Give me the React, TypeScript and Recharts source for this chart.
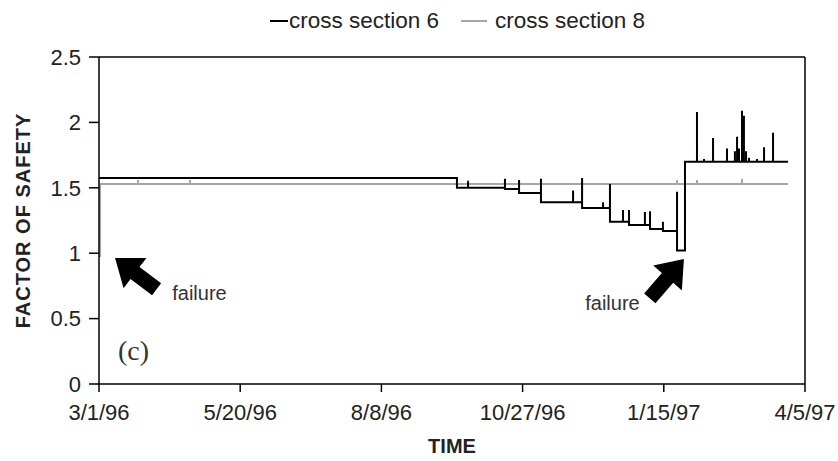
import React from 'react';
import { LineChart, Line, XAxis, YAxis, ReferenceLine, ReferenceDot } from 'recharts';

// x = days since 3/1/96
const xTicks = [0, 80, 160, 240, 320, 400];
const xTickLabels = ['3/1/96', '5/20/96', '8/8/96', '10/27/96', '1/15/97', '4/5/97'];
const yTicks = [0, 0.5, 1, 1.5, 2, 2.5];

const cs6Days = [
  0, 202.8, 202.8, 209.1, 209.1, 209.1, 230, 230, 230, 238, 238, 238,
  250.4, 250.4, 250.4, 268.6, 268.6, 268.6, 273.7, 273.7, 273.7, 285.6, 285.6, 285.6,
  289.5, 289.5, 289.5, 296.9, 296.9, 296.9, 300.3, 300.3, 300.3, 309.3, 309.3, 309.3,
  312.2, 312.2, 312.2, 319.5, 319.5, 319.5, 327.5, 327.5, 327.5, 332, 332,
  338.8, 338.8, 338.8, 342.8, 342.8, 342.8, 347.9, 347.9, 347.9, 355.8, 355.8, 355.8,
  360.3, 360.3, 360.3, 361.5, 361.5, 361.5, 362.6, 362.6, 362.6, 364.3, 364.3, 364.3,
  365.4, 365.4, 365.4, 366.6, 366.6, 366.6, 368.3, 368.3, 368.3, 372.8, 372.8, 372.8,
  376.8, 376.8, 376.8, 381.9, 381.9, 381.9, 390.4,
];
const cs6Values = [
  1.575, 1.575, 1.5, 1.5, 1.55, 1.5, 1.5, 1.57, 1.49, 1.49, 1.56, 1.46,
  1.46, 1.57, 1.39, 1.39, 1.48, 1.39, 1.39, 1.575, 1.345, 1.345, 1.39, 1.345,
  1.345, 1.53, 1.24, 1.24, 1.33, 1.24, 1.24, 1.33, 1.215, 1.215, 1.315, 1.215,
  1.215, 1.32, 1.185, 1.185, 1.24, 1.17, 1.17, 1.47, 1.02, 1.02, 1.7,
  1.7, 2.08, 1.7, 1.7, 1.72, 1.7, 1.7, 1.88, 1.7, 1.7, 1.8, 1.7,
  1.7, 1.78, 1.7, 1.7, 1.89, 1.7, 1.7, 1.8, 1.7, 1.7, 2.09, 1.7,
  1.7, 2.05, 1.7, 1.7, 1.78, 1.7, 1.7, 1.73, 1.7, 1.7, 1.72, 1.7,
  1.7, 1.81, 1.7, 1.7, 1.92, 1.7, 1.7,
];

const cs8Days = [
  0.6, 0.6, 22.1, 22.1, 22.1, 51.6, 51.6, 51.6, 209.1, 209.1, 209.1,
  327.5, 327.5, 327.5, 332, 332, 332, 338.8, 338.8, 338.8, 364.3, 364.3, 364.3, 390.4,
];
const cs8Values = [
  0.97, 1.53, 1.53, 1.56, 1.53, 1.53, 1.56, 1.53, 1.53, 1.56, 1.53,
  1.53, 1.56, 1.53, 1.53, 1.56, 1.53, 1.53, 1.56, 1.53, 1.53, 1.57, 1.53, 1.53,
];

const seriesNames = ['cross section 6', 'cross section 8'];
const seriesColors = ['#000000', '#a6a6a6'];

const cs6Data = cs6Days.map((d, i) => ({ day: d, fs: cs6Values[i] }));
const cs8Data = cs8Days.map((d, i) => ({ day: d, fs: cs8Values[i] }));

const FONT = '"Liberation Sans", Arial, Helvetica, sans-serif';

const makeArrow = (angle: number) => (p: any) => (
  <polygon
    transform={`translate(${p.cx},${p.cy}) rotate(${angle})`}
    points="0,0 -25,-19 -25,-7.5 -52,-7.5 -52,7.5 -25,7.5 -25,19"
    fill="#000"
  />
);

const makeText = (txt: string, size: number, family: string) => (p: any) => (
  <text x={p.cx} y={p.cy} fontSize={size} fontFamily={family} fill="#333">
    {txt}
  </text>
);

export default function App() {
  return (
    <div style={{ position: 'absolute', left: 0, top: 0, width: 838, height: 461, background: '#fff' }}>
      <div
        style={{
          position: 'absolute',
          left: 270,
          top: 7,
          display: 'flex',
          alignItems: 'center',
          fontFamily: FONT,
          fontSize: 22.5,
          color: '#222',
          whiteSpace: 'nowrap',
          lineHeight: '28px',
        }}
      >
        <span style={{ display: 'inline-block', width: 18, height: 2, background: seriesColors[0], marginRight: 1 }} />
        <span>{seriesNames[0]}</span>
        <span style={{ display: 'inline-block', width: 26, height: 2, background: seriesColors[1], marginLeft: 22, marginRight: 8 }} />
        <span>{seriesNames[1]}</span>
      </div>
      <LineChart width={838} height={461} data={cs6Data} margin={{ top: 57, right: 33, bottom: 17, left: 0 }}>
        <XAxis
          dataKey="day"
          type="number"
          domain={[0, 400]}
          ticks={xTicks}
          tickFormatter={(v: number) => xTickLabels[xTicks.indexOf(v)] ?? ''}
          height={60}
          tickSize={8}
          tickMargin={12}
          axisLine={{ stroke: '#000', strokeWidth: 1.5 }}
          tickLine={{ stroke: '#000', strokeWidth: 1.5 }}
          tick={{ fontSize: 22, fontFamily: FONT, fill: '#222' }}
          interval={0}
          allowDataOverflow
          label={{
            value: 'TIME',
            position: 'insideBottom',
            offset: -9,
            style: { fontSize: 20, fontWeight: 'bold', fontFamily: FONT, fill: '#222' },
          }}
        />
        <YAxis
          type="number"
          domain={[0, 2.5]}
          ticks={yTicks}
          width={99}
          tickSize={10}
          tickMargin={8}
          axisLine={{ stroke: '#000', strokeWidth: 1.5 }}
          tickLine={{ stroke: '#000', strokeWidth: 1.5 }}
          tick={{ fontSize: 22, fontFamily: FONT, fill: '#222' }}
          interval={0}
          label={{
            value: 'FACTOR OF SAFETY',
            angle: -90,
            position: 'center',
            dx: -27,
            style: { fontSize: 20, fontWeight: 'bold', fontFamily: FONT, fill: '#222', letterSpacing: 1 },
          }}
        />
        <ReferenceLine y={2.5} stroke="#000" strokeWidth={1.5} />
        <ReferenceLine x={400} stroke="#000" strokeWidth={1.5} />
        <Line
          data={cs8Data}
          dataKey="fs"
          name={seriesNames[1]}
          stroke={seriesColors[1]}
          strokeWidth={2}
          dot={false}
          activeDot={false}
          isAnimationActive={false}
        />
        <Line
          data={cs6Data}
          dataKey="fs"
          name={seriesNames[0]}
          stroke={seriesColors[0]}
          strokeWidth={2}
          dot={false}
          activeDot={false}
          isAnimationActive={false}
        />
        <ReferenceDot x={9.1} y={0.963} r={0} shape={makeArrow(217)} />
        <ReferenceDot x={331.4} y={0.955} r={0} shape={makeArrow(-49)} />
        <ReferenceDot x={41.5} y={0.642} r={0} shape={makeText('failure', 20, FONT)} />
        <ReferenceDot x={275.5} y={0.566} r={0} shape={makeText('failure', 20, FONT)} />
        <ReferenceDot x={10.8} y={0.183} r={0} shape={makeText('(c)', 28, '"Liberation Serif", "Times New Roman", serif')} />
      </LineChart>
    </div>
  );
}
